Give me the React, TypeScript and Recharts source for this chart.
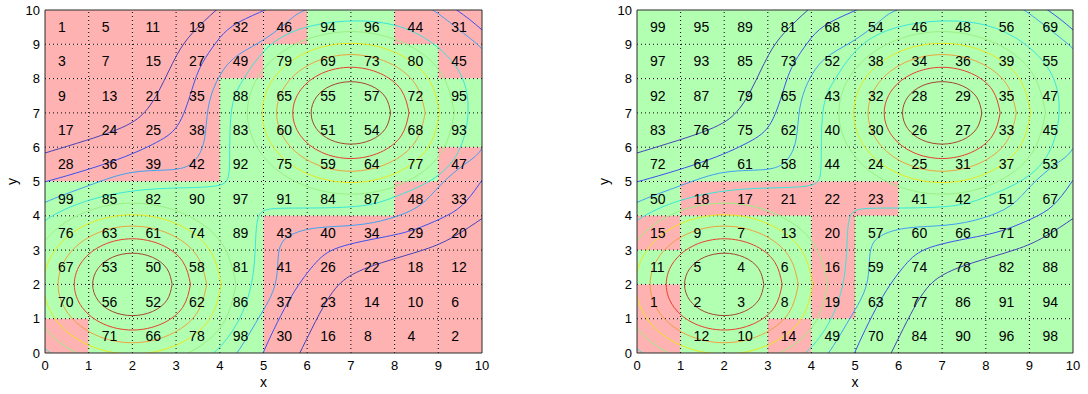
import { ComposedChart, Label, Line, ReferenceArea, ReferenceLine, XAxis, YAxis } from "recharts";

const FONT = "'Liberation Sans', Arial, Helvetica, sans-serif";
const PINK = "#ffb2b2";
const MINT = "#b2ffb2";
const BORDER = "#2a2a2a";

const axisTicks = [0, 1, 2, 3, 4, 5, 6, 7, 8, 9, 10];
const gridLines = [1, 2, 3, 4, 5, 6, 7, 8, 9];

// cell numbers, top row (y 9..10) first, null = empty cell
const leftValues = [
  [1, 5, 11, 19, 32, 46, 94, 96, 44, 31],
  [3, 7, 15, 27, 49, 79, 69, 73, 80, 45],
  [9, 13, 21, 35, 88, 65, 55, 57, 72, 95],
  [17, 24, 25, 38, 83, 60, 51, 54, 68, 93],
  [28, 36, 39, 42, 92, 75, 59, 64, 77, 47],
  [99, 85, 82, 90, 97, 91, 84, 87, 48, 33],
  [76, 63, 61, 74, 89, 43, 40, 34, 29, 20],
  [67, 53, 50, 58, 81, 41, 26, 22, 18, 12],
  [70, 56, 52, 62, 86, 37, 23, 14, 10, 6],
  [null, 71, 66, 78, 98, 30, 16, 8, 4, 2],
];
const leftColors = [
  "RRRRRRGGRR",
  "RRRRRGGGGR",
  "RRRRGGGGGG",
  "RRRRGGGGGG",
  "RRRRGGGGGR",
  "GGGGGGGGRR",
  "GGGGGRRRRR",
  "GGGGGRRRRR",
  "GGGGGRRRRR",
  "RGGGGRRRRR",
];

const rightValues = [
  [99, 95, 89, 81, 68, 54, 46, 48, 56, 69],
  [97, 93, 85, 73, 52, 38, 34, 36, 39, 55],
  [92, 87, 79, 65, 43, 32, 28, 29, 35, 47],
  [83, 76, 75, 62, 40, 30, 26, 27, 33, 45],
  [72, 64, 61, 58, 44, 24, 25, 31, 37, 53],
  [50, 18, 17, 21, 22, 23, 41, 42, 51, 67],
  [15, 9, 7, 13, 20, 57, 60, 66, 71, 80],
  [11, 5, 4, 6, 16, 59, 74, 78, 82, 88],
  [1, 2, 3, 8, 19, 63, 77, 86, 91, 94],
  [null, 12, 10, 14, 49, 70, 84, 90, 96, 98],
];
const rightColors = [
  "GGGGGGGGGG",
  "GGGGGGGGGG",
  "GGGGGGGGGG",
  "GGGGGGGGGG",
  "GGGGGGGGGG",
  "GRRRRRGGGG",
  "RGGGRGGGGG",
  "GGGGRGGGGG",
  "RGGGRGGGGG",
  "RGGRGGGGGG",
];

type Pt = [number, number];

// contour lines (x, y)
const upperBrown: Pt[] = [[7.91, 7], [7.79, 7.46], [7.46, 7.79], [7, 7.91], [6.54, 7.79], [6.21, 7.46], [6.09, 7], [6.21, 6.54], [6.54, 6.21], [7, 6.09], [7.46, 6.21], [7.79, 6.54], [7.91, 7]];
const upperRed: Pt[] = [[8.33, 7], [8.15, 7.67], [7.67, 8.15], [7, 8.33], [6.33, 8.15], [5.85, 7.67], [5.67, 7], [5.85, 6.33], [6.33, 5.85], [7, 5.67], [7.67, 5.85], [8.15, 6.33], [8.33, 7]];
const upperOrange: Pt[] = [[8.7, 7], [8.47, 7.85], [7.85, 8.47], [7, 8.7], [6.15, 8.47], [5.53, 7.85], [5.3, 7], [5.53, 6.15], [6.15, 5.53], [7, 5.3], [7.85, 5.53], [8.47, 6.15], [8.7, 7]];
const upperYellow: Pt[] = [[9.03, 7], [8.76, 8.02], [8.02, 8.76], [7, 9.03], [5.98, 8.76], [5.24, 8.02], [4.97, 7], [5.24, 5.98], [5.98, 5.24], [7, 4.97], [8.02, 5.24], [8.76, 5.98], [9.03, 7]];
const upperGreen: Pt[] = [[9.37, 7], [9.05, 8.19], [8.19, 9.05], [7, 9.37], [5.81, 9.05], [4.95, 8.19], [4.63, 7], [4.95, 5.81], [5.81, 4.95], [7, 4.63], [8.19, 4.95], [9.05, 5.81], [9.37, 7]];

const lowerBrown: Pt[] = [[2.91, 2], [2.79, 2.46], [2.46, 2.79], [2, 2.91], [1.54, 2.79], [1.21, 2.46], [1.09, 2], [1.21, 1.54], [1.54, 1.21], [2, 1.09], [2.46, 1.21], [2.79, 1.54], [2.91, 2]];
const lowerRed: Pt[] = [[3.33, 2], [3.15, 2.67], [2.67, 3.15], [2, 3.33], [1.33, 3.15], [0.85, 2.67], [0.67, 2], [0.85, 1.33], [1.33, 0.85], [2, 0.67], [2.67, 0.85], [3.15, 1.33], [3.33, 2]];
const lowerOrange: Pt[] = [[3.7, 2], [3.47, 2.85], [2.85, 3.47], [2, 3.7], [1.15, 3.47], [0.53, 2.85], [0.3, 2], [0.53, 1.15], [1.15, 0.53], [2, 0.3], [2.85, 0.53], [3.47, 1.15], [3.7, 2]];
const lowerYellow: Pt[] = [[4.03, 2], [3.76, 3.02], [3.02, 3.76], [2, 4.03], [0.98, 3.76], [0.24, 3.02], [-0.03, 2], [0.24, 0.98], [0.98, 0.24], [2, -0.03], [3.02, 0.24], [3.76, 0.98], [4.03, 2]];
const lowerGreen: Pt[] = [[4.37, 2], [4.05, 3.19], [3.19, 4.05], [2, 4.37], [0.81, 4.05], [-0.05, 3.19], [-0.37, 2], [-0.05, 0.81], [0.81, -0.05], [2, -0.37], [3.19, -0.05], [4.05, 0.81], [4.37, 2]];

const cyanMain: Pt[] = [[-0.6, 3.1], [0, 3.86], [1, 4.45], [2.2, 4.75], [3.3, 4.82], [3.85, 4.86], [4.13, 4.98], [4.22, 5.4], [4.23, 6.3], [4.3, 7.3], [4.55, 8.0], [5.05, 8.85], [5.85, 9.45], [7, 9.68], [8.1, 9.52], [8.95, 8.95], [9.52, 8.1], [9.68, 7], [9.45, 5.85], [8.85, 5.05], [8.0, 4.55], [7.3, 4.3], [6.3, 4.23], [5.4, 4.22], [4.98, 4.13], [4.86, 3.85], [4.82, 3.3], [4.75, 2.2], [4.45, 1], [3.86, 0], [3.1, -0.6]];
const cyanCorner: Pt[] = [[2, -0.68], [0.95, -0.45], [0.06, 0.06], [-0.45, 0.95], [-0.68, 2]];
const lightBlue: Pt[] = [[-0.5, 4.0], [0, 4.39], [1, 4.88], [2.02, 5.27], [3.01, 5.36], [3.46, 5.66], [3.65, 6.24], [3.73, 7.11], [3.92, 7.89], [4.3, 8.57], [4.91, 9.06], [5.5, 9.6], [5.97, 10], [7, 10.2], [8.3, 10.15], [8.87, 10], [9.45, 9.45], [10, 8.87], [10.15, 8.3], [10.2, 7], [10, 5.97], [9.6, 5.5], [9.06, 4.91], [8.57, 4.3], [7.89, 3.92], [7.11, 3.73], [6.24, 3.65], [5.66, 3.46], [5.36, 3.01], [5.27, 2.02], [4.88, 1], [4.39, 0], [4.0, -0.5]];
const blueTop: Pt[] = [[-0.5, 4.85], [0, 4.99], [1.48, 5.56], [2.55, 6.14], [3.08, 6.73], [3.39, 7.79], [3.61, 8.47], [3.92, 9.06], [4.3, 9.54], [4.91, 9.93], [5.5, 10.25]];
const blueCorner: Pt[] = [[9.1, 10.3], [9.42, 10], [9.72, 9.72], [10, 9.42], [10.3, 9.1]];
const blueBottom: Pt[] = [[10.25, 5.5], [9.93, 4.91], [9.54, 4.3], [9.06, 3.92], [8.47, 3.61], [7.79, 3.39], [6.73, 3.08], [6.14, 2.55], [5.56, 1.48], [4.99, 0], [4.85, -0.5]];
const navyTop: Pt[] = [[-0.5, 5.6], [0, 5.83], [1.48, 6.43], [2.24, 6.97], [2.63, 7.7], [3.01, 8.67], [3.39, 9.35], [3.92, 10], [4.3, 10.4]];
const navyBottom: Pt[] = [[10.4, 4.3], [10, 3.92], [9.35, 3.39], [8.67, 3.01], [7.7, 2.63], [6.97, 2.24], [6.43, 1.48], [5.83, 0], [5.6, -0.5]];

const contours = [
  { pts: navyTop, color: "#4444b8" },
  { pts: navyBottom, color: "#4444b8" },
  { pts: blueTop, color: "#3c50ee" },
  { pts: blueCorner, color: "#3c50ee" },
  { pts: blueBottom, color: "#3c50ee" },
  { pts: lightBlue, color: "#40a0f2" },
  { pts: cyanMain, color: "#38e6da" },
  { pts: cyanCorner, color: "#38e6da" },
  { pts: upperGreen, color: "#9cee84" },
  { pts: lowerGreen, color: "#9cee84" },
  { pts: upperYellow, color: "#e8e81c" },
  { pts: lowerYellow, color: "#e8e81c" },
  { pts: upperOrange, color: "#f0a03c" },
  { pts: lowerOrange, color: "#f0a03c" },
  { pts: upperRed, color: "#e6402c" },
  { pts: lowerRed, color: "#e6402c" },
  { pts: upperBrown, color: "#a4462c" },
  { pts: lowerBrown, color: "#a4462c" },
].map((c) => ({ color: c.color, rows: c.pts.map(([x, y]) => ({ x, y })) }));

const XLabelContent = (props: any) => {
  const vb = props.viewBox;
  return (
    <text x={vb.x + vb.width / 2} y={vb.y + 34} textAnchor="middle" fontSize={14} fontFamily={FONT} fill="#000">
      x
    </text>
  );
};

const YLabelContent = (props: any) => {
  const vb = props.viewBox;
  const x = vb.x + 1.5;
  const y = vb.y + vb.height / 2;
  return (
    <text x={x} y={y} transform={`rotate(-90 ${x} ${y})`} textAnchor="middle" fontSize={14} fontFamily={FONT} fill="#000">
      y
    </text>
  );
};

interface PanelProps {
  values: (number | null)[][];
  colors: string[];
  marginLeft: number;
  marginRight: number;
}

function Panel({ values, colors, marginLeft, marginRight }: PanelProps) {
  return (
    <ComposedChart width={544} height={394} margin={{ top: 10, right: marginRight, bottom: 11, left: marginLeft }}>
      {values.map((row, ri) =>
        row.map((v, ci) => (
          <ReferenceArea
            key={`c${ri}-${ci}`}
            x1={axisTicks[ci]}
            x2={axisTicks[ci + 1]}
            y1={axisTicks[9 - ri]}
            y2={axisTicks[10 - ri]}
            fill={colors[ri][ci] === "R" ? PINK : MINT}
            fillOpacity={1}
            stroke="none"
            label={
              v === null
                ? undefined
                : { value: String(v), position: "insideLeft", offset: 13, fill: "#000", fontSize: 14, fontFamily: FONT }
            }
          />
        ))
      )}
      {gridLines.map((g) => (
        <ReferenceLine key={`gx${g}`} x={g} stroke="#000" strokeDasharray="1 3" />
      ))}
      {gridLines.map((g) => (
        <ReferenceLine key={`gy${g}`} y={g} stroke="#000" strokeDasharray="1 3" />
      ))}
      {contours.map((c, i) => (
        <Line
          key={`k${i}`}
          data={c.rows}
          dataKey="y"
          type="natural"
          stroke={c.color}
          strokeWidth={1}
          dot={false}
          activeDot={false}
          isAnimationActive={false}
          legendType="none"
        />
      ))}
      <ReferenceLine x={10} stroke={BORDER} />
      <ReferenceLine y={10} stroke={BORDER} />
      <XAxis
        type="number"
        dataKey="x"
        domain={[0, 10]}
        ticks={axisTicks}
        interval={0}
        allowDataOverflow
        height={30}
        tickLine={false}
        stroke={BORDER}
        tick={{ fill: "#000", fontSize: 13, fontFamily: FONT }}
      >
        <Label content={XLabelContent} />
      </XAxis>
      <YAxis
        type="number"
        domain={[0, 10]}
        ticks={axisTicks}
        interval={0}
        allowDataOverflow
        width={30}
        tickLine={false}
        tickSize={5}
        tickMargin={0}
        stroke={BORDER}
        tick={{ fill: "#000", fontSize: 13, fontFamily: FONT }}
      >
        <Label content={YLabelContent} />
      </YAxis>
    </ComposedChart>
  );
}

export default function App() {
  return (
    <div style={{ position: "absolute", left: 0, top: 0, width: 1088, height: 394, display: "flex", background: "#fff" }}>
      <Panel values={leftValues} colors={leftColors} marginLeft={15} marginRight={62} />
      <Panel values={rightValues} colors={rightColors} marginLeft={63} marginRight={15} />
    </div>
  );
}
